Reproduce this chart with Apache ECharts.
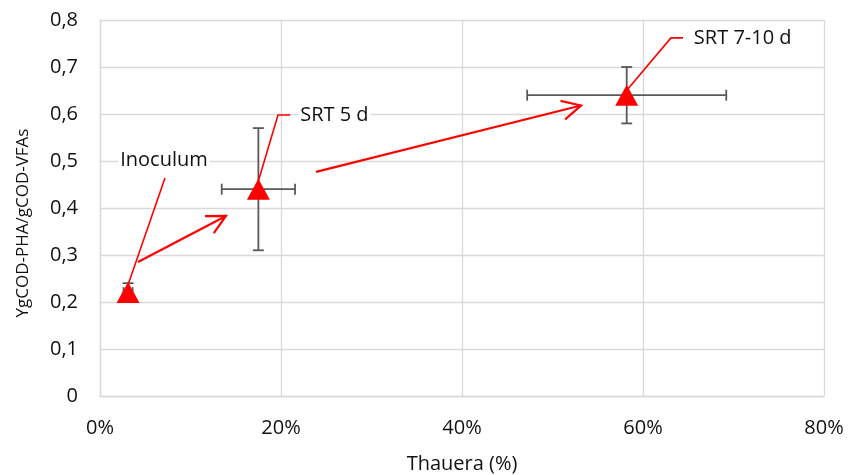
<!DOCTYPE html>
<html>
<head>
<meta charset="utf-8">
<script src="https://cdn.jsdelivr.net/npm/echarts@6/dist/echarts.min.js"></script>
<style>html,body{margin:0;padding:0;background:#fff}#c{width:848px;height:475px}</style>
</head>
<body>
<div id="c"></div>
<script>
// ---- data ----
const pointNames = ['Inoculum', 'SRT 5 d', 'SRT 7-10 d'];
const thauera = [3.1, 17.5, 58.2];          // %
const yieldVals = [0.22, 0.44, 0.64];       // YgCOD-PHA/gCOD-VFAs
const thaueraErr = [0.5, 4.05, 11.0];
const yieldErr = [0.02, 0.13, 0.06];
const xTickValues = [0, 20, 40, 60, 80];
const yTickValues = [0, 0.1, 0.2, 0.3, 0.4, 0.5, 0.6, 0.7, 0.8];
// annotation anchors (data units)
const labelAnchors = [[7.07, 0.502], [21.9, 0.597], [65.4, 0.762]];
const labelAlign = ['center', 'left', 'left'];
const leaderLines = [
  [[7.18, 0.464], [3.09, 0.236]],
  [[21.0, 0.598], [19.67, 0.598], [17.46, 0.455]],
  [[64.42, 0.762], [63.09, 0.762], [58.23, 0.651]]
];
const arrows = [
  [4.20, 0.285, 13.92, 0.383],
  [23.87, 0.477, 53.15, 0.618]
];

const FONT = '"Open Sans", "Noto Sans", sans-serif';
const chart = echarts.init(document.getElementById('c'));

const errData = thauera.map((x, i) => [x, yieldVals[i], thaueraErr[i], yieldErr[i]]);
const leaderData = leaderLines.map((l, i) => [i]);
const labelData = labelAnchors.map((p, i) => [p[0], p[1], i]);

chart.setOption({
  animation: false,
  grid: { left: 100, right: 24, top: 20, bottom: 79, containLabel: false, outerBoundsMode: 'none' },
  xAxis: {
    type: 'value', min: 0, max: 80, interval: 20,
    name: 'Thauera (%)', nameLocation: 'middle', nameGap: 58,
    nameTextStyle: { fontFamily: FONT, fontSize: 20, color: '#111' },
    axisLine: { show: true, lineStyle: { color: '#d9d9d9', width: 1.3 } },
    axisTick: { show: false },
    axisLabel: { formatter: v => xTickValues.includes(v) ? v + '%' : '', fontFamily: FONT, fontSize: 20, color: '#111', margin: 22 },
    splitLine: { show: true, lineStyle: { color: '#d9d9d9', width: 1.3 } }
  },
  yAxis: {
    type: 'value', min: 0, max: 0.8, interval: 0.1,
    name: 'YgCOD-PHA/gCOD-VFAs', nameLocation: 'middle', nameGap: 68,
    nameTextStyle: { fontFamily: FONT, fontSize: 17, color: '#111', padding: [0, 30, 0, 0] },
    axisLine: { show: true, lineStyle: { color: '#d9d9d9', width: 1.3 } },
    axisTick: { show: false },
    axisLabel: {
      formatter: v => {
        const t = yTickValues.find(tv => Math.abs(tv - v) < 1e-9);
        if (t === undefined) return '';
        return t === 0 ? '0' : t.toFixed(1).replace('.', ',');
      },
      fontFamily: FONT, fontSize: 20, color: '#111', margin: 22
    },
    splitLine: { show: true, lineStyle: { color: '#d9d9d9', width: 1.3 } }
  },
  series: [
    {
      type: 'custom', name: 'errors', z: 2,
      data: errData,
      renderItem: (params, api) => {
        const x = api.value(0), y = api.value(1), ex = api.value(2), ey = api.value(3);
        const l = api.coord([x - ex, y]), r = api.coord([x + ex, y]);
        const t = api.coord([x, y + ey]), b = api.coord([x, y - ey]);
        const cap = 5.5;
        const st = { stroke: '#595959', lineWidth: 1.8 };
        return {
          type: 'group', children: [
            { type: 'line', shape: { x1: l[0], y1: l[1], x2: r[0], y2: r[1] }, style: st },
            { type: 'line', shape: { x1: l[0], y1: l[1] - cap, x2: l[0], y2: l[1] + cap }, style: st },
            { type: 'line', shape: { x1: r[0], y1: r[1] - cap, x2: r[0], y2: r[1] + cap }, style: st },
            { type: 'line', shape: { x1: t[0], y1: t[1], x2: b[0], y2: b[1] }, style: st },
            { type: 'line', shape: { x1: t[0] - cap, y1: t[1], x2: t[0] + cap, y2: t[1] }, style: st },
            { type: 'line', shape: { x1: b[0] - cap, y1: b[1], x2: b[0] + cap, y2: b[1] }, style: st }
          ]
        };
      }
    },
    {
      type: 'scatter', name: 'points', z: 4,
      data: thauera.map((x, i) => [x, yieldVals[i]]),
      symbol: 'triangle', symbolSize: [23, 21],
      itemStyle: { color: '#ff0000', opacity: 1 }
    },
    {
      type: 'custom', name: 'leaders', z: 5,
      data: leaderData,
      renderItem: (params, api) => {
        const pts = leaderLines[api.value(0)].map(p => api.coord(p));
        return { type: 'polyline', shape: { points: pts }, style: { stroke: '#ff0000', lineWidth: 1.6, fill: null } };
      }
    },
    {
      type: 'custom', name: 'arrows', z: 5,
      data: arrows,
      renderItem: (params, api) => {
        const p1 = api.coord([api.value(0), api.value(1)]);
        const p2 = api.coord([api.value(2), api.value(3)]);
        const ang = Math.atan2(p1[1] - p2[1], p1[0] - p2[0]);
        const len = 21, spread = 27 * Math.PI / 180;
        const w1 = [p2[0] + len * Math.cos(ang + spread), p2[1] + len * Math.sin(ang + spread)];
        const w2 = [p2[0] + len * Math.cos(ang - spread), p2[1] + len * Math.sin(ang - spread)];
        const st = { stroke: '#ff0000', lineWidth: 2.2, fill: null };
        return {
          type: 'group', children: [
            { type: 'line', shape: { x1: p1[0], y1: p1[1], x2: p2[0], y2: p2[1] }, style: st },
            { type: 'polyline', shape: { points: [w1, p2, w2] }, style: st }
          ]
        };
      }
    },
    {
      type: 'custom', name: 'labels', z: 6,
      data: labelData,
      renderItem: (params, api) => {
        const i = api.value(2);
        const p = api.coord([api.value(0), api.value(1)]);
        return {
          type: 'text', x: p[0], y: p[1],
          style: {
            text: pointNames[i], fill: '#111', font: '20px ' + FONT,
            align: labelAlign[i], verticalAlign: 'middle',
            backgroundColor: '#ffffff', padding: [0, 2]
          }
        };
      }
    }
  ]
});
</script>
</body>
</html>
